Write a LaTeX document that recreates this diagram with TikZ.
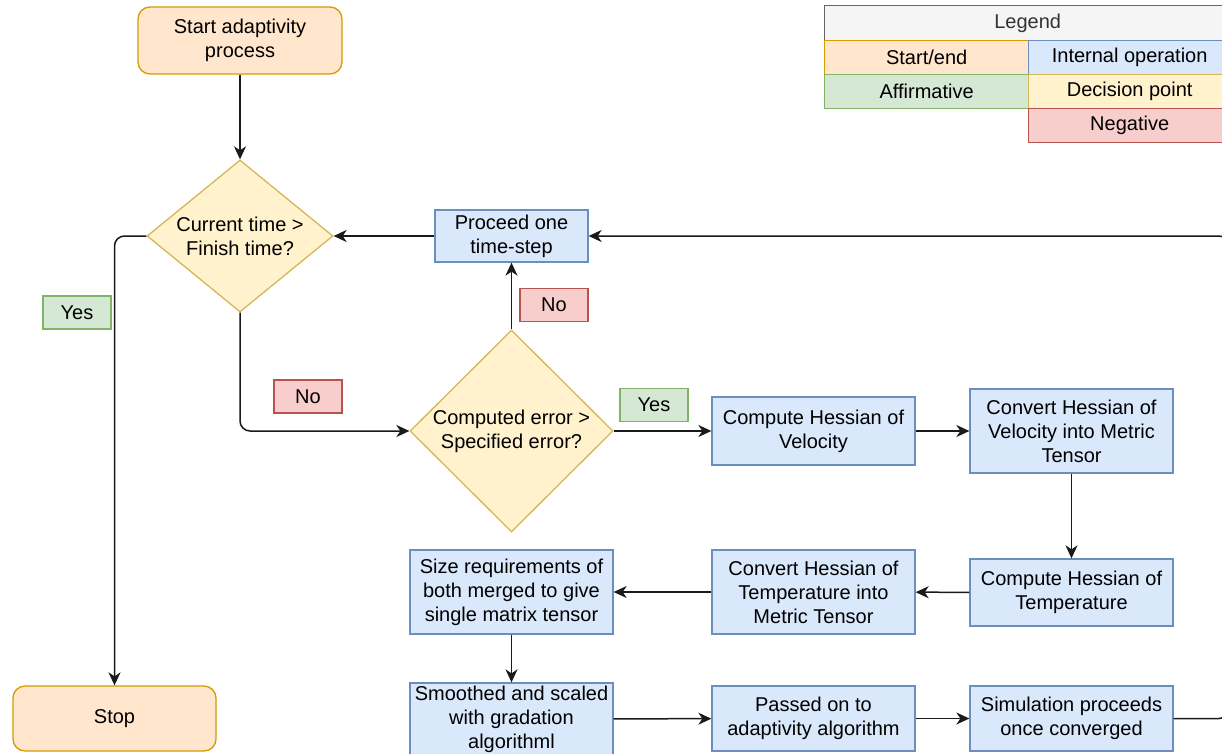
\documentclass[tikz,border=0pt]{standalone}
\usepackage{fontspec}
\setmainfont{Liberation Sans}
\usetikzlibrary{shapes.geometric,arrows.meta}
\definecolor{termfill}{HTML}{FFE6CC}\definecolor{termdraw}{HTML}{D79B00}
\definecolor{procfill}{HTML}{DAE8FC}\definecolor{procdraw}{HTML}{6C8EBF}
\definecolor{yesfill}{HTML}{D5E8D4}\definecolor{yesdraw}{HTML}{82B366}
\definecolor{decfill}{HTML}{FFF2CC}\definecolor{decdraw}{HTML}{D6B656}
\definecolor{nofill}{HTML}{F8CECC}\definecolor{nodraw}{HTML}{B85450}
\definecolor{legfill}{HTML}{F5F5F5}\definecolor{legdraw}{HTML}{666666}
\definecolor{legtext}{HTML}{333333}\definecolor{lineclr}{HTML}{1A1A1A}
\begin{document}
\begin{tikzpicture}[x=1pt,y=-1pt,
  base/.style={draw, line width=1.3pt, font=\fontsize{20}{24}\selectfont, align=center, inner sep=0pt},
  term/.style={base, rectangle, fill=termfill, draw=termdraw, rounded corners=12pt, minimum width=204pt},
  proc/.style={base, rectangle, fill=procfill, draw=procdraw, minimum width=203pt},
  dec/.style={base, diamond, fill=decfill, draw=decdraw},
  yeslab/.style={base, rectangle, fill=yesfill, draw=yesdraw, minimum width=68pt, minimum height=33pt},
  nolab/.style={base, rectangle, fill=nofill, draw=nodraw, minimum width=68pt, minimum height=33pt},
  txt/.style={font=\fontsize{20}{24}\selectfont, align=center, inner sep=0pt},
  legcell/.style={base, rectangle, anchor=north west, minimum height=34pt},
  conn/.style={draw=lineclr, line width=1.5pt, -{Stealth[length=13pt,width=12pt,inset=4pt]}}
]
\useasboundingbox (0,0) rectangle (1222,754);
\clip (0,0) rectangle (1222,754);
\fill[white] (0,0) rectangle (1222,754);

% legend
\node[legcell, fill=legfill, draw=legdraw, text=legtext, minimum width=406pt, minimum height=35pt] (lhead) at (824,5) {Legend};
\node[legcell, fill=termfill, draw=termdraw, minimum width=204pt] (lstart) at (824,40) {Start/end};
\node[legcell, fill=procfill, draw=procdraw, minimum width=202pt] (lint) at (1028,40) {Internal operation};
\node[legcell, fill=yesfill, draw=yesdraw, minimum width=204pt] (laff) at (824,74) {Affirmative};
\node[legcell, fill=decfill, draw=decdraw, minimum width=202pt] (ldec) at (1028,74) {Decision point};
\node[legcell, fill=nofill, draw=nodraw, minimum width=202pt] (lneg) at (1028,108) {Negative};

% main nodes
\node[term, minimum height=67pt] (start) at (240,40.5) {Start adaptivity\\process};
\node[dec, minimum width=186pt, minimum height=152pt] (d1) at (240,236) {};
\node[txt] (d1t) at (240,236) {Current time >\\Finish time?};
\node[proc, minimum width=153pt, minimum height=52pt] (proceed) at (511.5,236) {Proceed one\\time-step};
\node[term, minimum width=203pt, minimum height=65pt] (stop) at (114.5,718.5) {Stop};
\node[dec, minimum width=203pt, minimum height=202pt] (d2) at (511.5,431) {};
\node[txt] (d2t) at (511.5,431) {Computed error >\\Specified error?};

\node[proc, minimum height=68pt] (chv) at (813.5,431) {Compute Hessian of\\Velocity};
\node[proc, minimum height=84pt] (cvmt) at (1071.5,431) {Convert Hessian of\\Velocity into Metric\\Tensor};
\node[proc, minimum height=67pt] (cht) at (1071.5,592.5) {Compute Hessian of\\Temperature};
\node[proc, minimum height=84pt] (ctmt) at (813.5,592) {Convert Hessian of\\Temperature into\\Metric Tensor};
\node[proc, minimum height=84pt] (size) at (511.5,592) {Size requirements of\\both merged to give\\single matrix tensor};
\node[proc, minimum height=72pt] (smooth) at (511.5,719) {Smoothed and scaled\\with gradation\\algorithml};
\node[proc, minimum height=65pt] (passed) at (813.5,718.5) {Passed on to\\adaptivity algorithm};
\node[proc, minimum height=65pt] (sim) at (1071.5,718.5) {Simulation proceeds\\once converged};

% labels
\node[yeslab] (yes1) at (77,312.5) {Yes};
\node[nolab] (no1) at (308,396.5) {No};
\node[nolab] (no2) at (554,305) {No};
\node[yeslab] (yes2) at (654,405) {Yes};

% connectors
\coordinate (rt) at (1229,0);
\draw[conn] (start) -- (d1);
\draw[conn] (proceed.west) -- (d1.east);
\draw[conn, rounded corners=10pt] (d1.west) -| (stop.north);
\draw[conn, rounded corners=10pt] (d1.south) |- (d2.west);
\draw[conn] (d2.north) -- (proceed.south);
\draw[conn] (d2.east) -- (chv.west);
\draw[conn] (chv) -- (cvmt);
\draw[conn] (cvmt) -- (cht);
\draw[conn] (cht) -- (ctmt);
\draw[conn] (ctmt) -- (size);
\draw[conn] (size) -- (smooth);
\draw[conn] (smooth) -- (passed);
\draw[conn] (passed) -- (sim);
\draw[conn, rounded corners=10pt] (sim.east) -- (sim.east -| rt) -- (proceed.east -| rt) -- (proceed.east);
\end{tikzpicture}
\end{document}
